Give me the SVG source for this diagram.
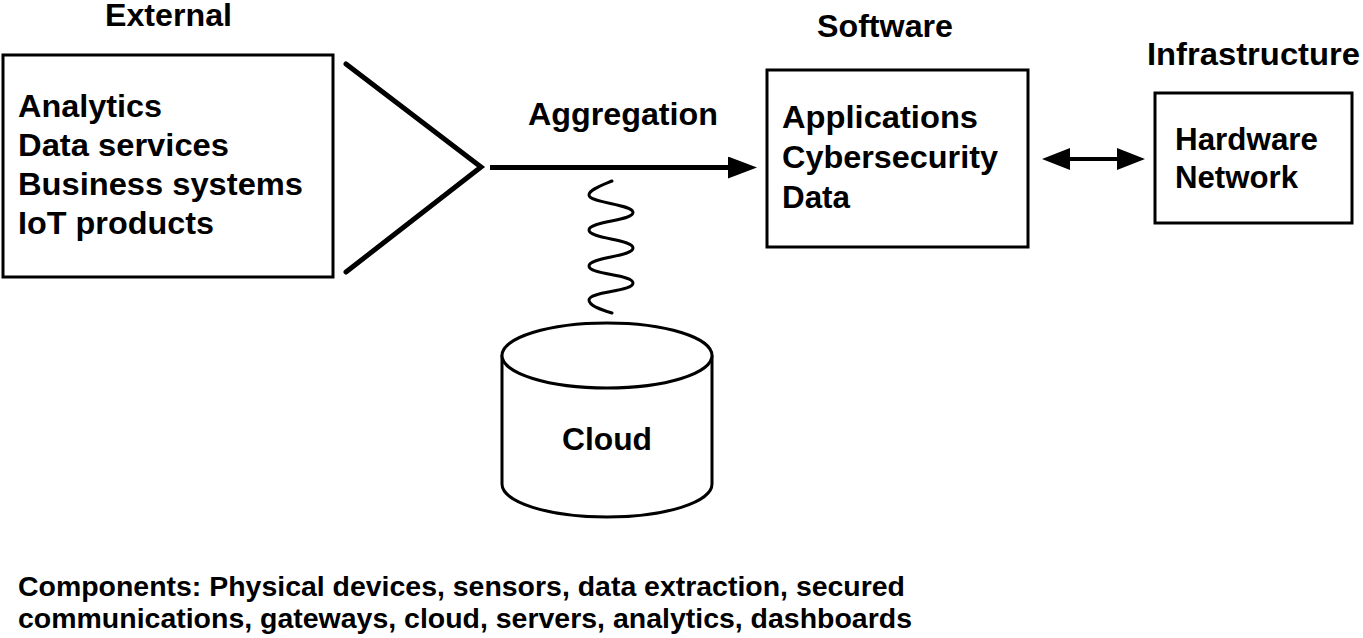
<svg xmlns="http://www.w3.org/2000/svg" width="1363" height="638" viewBox="0 0 1363 638">
<style>
  text { font-family: "Liberation Sans", Arial, Helvetica, sans-serif; font-weight: bold; font-size: 31px; fill: #000; }
  .small { font-size: 27.5px; }
  .box { fill: #fff; stroke: #000; stroke-width: 3; }
  .thick { fill: none; stroke: #000; stroke-width: 5; stroke-linecap: round; stroke-linejoin: miter; }
  .wave { fill: none; stroke: #000; stroke-width: 3; stroke-linecap: round; }
</style>
<defs>
  <marker id="head1" markerUnits="userSpaceOnUse" markerWidth="30" markerHeight="24" refX="12" refY="11" orient="auto">
    <path d="M0,0 L29,11 L0,22 z" fill="#000"/>
  </marker>
  <marker id="head2" markerUnits="userSpaceOnUse" markerWidth="30" markerHeight="24" refX="15" refY="11" orient="auto-start-reverse">
    <path d="M0,0 L28,11 L0,22 z" fill="#000"/>
  </marker>
</defs>
<rect width="1363" height="638" fill="#fff"/>

<g id="external">
  <text x="105" y="26" textLength="127" lengthAdjust="spacingAndGlyphs">External</text>
  <rect class="box" x="3" y="55" width="330" height="222"/>
  <text x="18" y="117" textLength="144" lengthAdjust="spacingAndGlyphs">Analytics</text>
  <text x="18" y="156" textLength="211" lengthAdjust="spacingAndGlyphs">Data services</text>
  <text x="18" y="195" textLength="285" lengthAdjust="spacingAndGlyphs">Business systems</text>
  <text x="18" y="234" textLength="196" lengthAdjust="spacingAndGlyphs">IoT products</text>
</g>

<g id="software">
  <text x="817" y="37" textLength="136" lengthAdjust="spacingAndGlyphs">Software</text>
  <rect class="box" x="767" y="70" width="261" height="177"/>
  <text x="782" y="128" textLength="196" lengthAdjust="spacingAndGlyphs">Applications</text>
  <text x="782" y="168" textLength="216" lengthAdjust="spacingAndGlyphs">Cybersecurity</text>
  <text x="782" y="208" textLength="68" lengthAdjust="spacingAndGlyphs">Data</text>
</g>

<g id="infrastructure">
  <text x="1147" y="65" textLength="213" lengthAdjust="spacingAndGlyphs">Infrastructure</text>
  <rect class="box" x="1155" y="93" width="197" height="130"/>
  <text x="1175" y="150" textLength="143" lengthAdjust="spacingAndGlyphs">Hardware</text>
  <text x="1175" y="188" textLength="123" lengthAdjust="spacingAndGlyphs">Network</text>
</g>

<g id="cloud">
  <path class="box" d="M502,355 L502,484 A105,33 0 0 0 712,484 L712,355"/>
  <ellipse class="box" cx="607" cy="355.5" rx="105" ry="32.5"/>
  <text x="562" y="450" textLength="90" lengthAdjust="spacingAndGlyphs">Cloud</text>
</g>

<g id="connectors">
  <polyline class="thick" points="346,64 481,167 346,272"/>
  <text x="528" y="125" textLength="190" lengthAdjust="spacingAndGlyphs">Aggregation</text>
  <line x1="490" y1="167.5" x2="740" y2="167.5" stroke="#000" stroke-width="5" marker-end="url(#head1)"/>
  <line x1="1055" y1="159" x2="1132" y2="159" stroke="#000" stroke-width="4" marker-start="url(#head2)" marker-end="url(#head2)"/>
  <path class="wave" d="M612,181 C600,186 589,190 589,195 C589,203 633,204 633,212.5 C633,221 589,221 589,230 C589,239 633,239 633,248 C633,257 589,257 589,266 C589,275 633,274 633,283 C633,292 589,291 589,300 C589,306 602,310 612,313"/>
</g>

<g id="components">
  <text class="small" x="18" y="596" textLength="887" lengthAdjust="spacingAndGlyphs">Components: Physical devices, sensors, data extraction, secured</text>
  <text class="small" x="18" y="628" textLength="894" lengthAdjust="spacingAndGlyphs">communications, gateways, cloud, servers, analytics, dashboards</text>
</g>
</svg>
